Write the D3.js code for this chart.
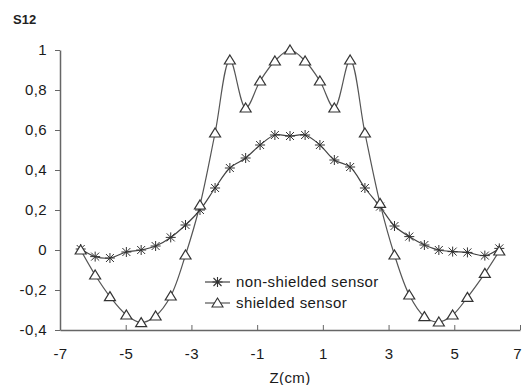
<!DOCTYPE html>
<html>
<head>
<meta charset="utf-8">
<script src="https://cdn.jsdelivr.net/npm/d3@7"></script>
<style>
  body { margin: 0; background: #fff; }
  svg { display: block; font-family: "Liberation Sans", Arial, sans-serif; }
</style>
</head>
<body>
<div id="chart"></div>
<script>
// positions along the sensor (cm)
var zValues = [-6.37, -5.93, -5.48, -4.98, -4.53, -4.09, -3.63, -3.18, -2.74, -2.28, -1.83, -1.35, -0.91, -0.46, 0,
	0.46, 0.91, 1.35, 1.83, 2.28, 2.74, 3.18, 3.63, 4.09, 4.53, 4.95, 5.4, 5.93, 6.37];

// S12 for the non-shielded sensor
var nonShielded = [0.005, -0.033, -0.04, -0.01, 0.0, 0.02, 0.063, 0.125, 0.2, 0.31, 0.41, 0.46, 0.525, 0.575, 0.57,
	0.575, 0.525, 0.45, 0.415, 0.31, 0.217, 0.12, 0.067, 0.025, 0.0, -0.008, -0.012, -0.028, 0.008];

// S12 for the shielded sensor
var shielded = [0.0, -0.125, -0.233, -0.325, -0.363, -0.33, -0.23, -0.025, 0.225, 0.585, 0.95, 0.71, 0.845, 0.945, 1.0,
	0.945, 0.845, 0.71, 0.95, 0.585, 0.233, -0.025, -0.225, -0.333, -0.36, -0.325, -0.237, -0.117, -0.005];

var xTicks = [-7, -5, -3, -1, 1, 3, 5, 7];
var yTicks = [-0.4, -0.2, 0, 0.2, 0.4, 0.6, 0.8, 1];
var seriesNames = ["non-shielded sensor", "shielded sensor"];

var width = 523, height = 385;
var margin = {top: 50, right: 3, bottom: 55, left: 60};

var svg = d3.select("#chart").append("svg")
	.attr("width", width)
	.attr("height", height);

var x = d3.scaleLinear().domain([-7, 7]).range([margin.left, width - margin.right]);
var y = d3.scaleLinear().domain([-0.4, 1]).range([height - margin.bottom, margin.top]);

//X axis
var xAxis = svg.append("g")
	.attr("transform", `translate(0,${y(-0.4)})`)
	.call(d3.axisBottom(x).tickValues(xTicks).tickSizeInner(-5).tickSizeOuter(0).tickPadding(18)
		.tickFormat(d => String(d)));

//Y axis
var yAxis = svg.append("g")
	.attr("transform", `translate(${x(-7)},0)`)
	.call(d3.axisLeft(y).tickValues(yTicks).tickSize(5).tickSizeOuter(0).tickPadding(8)
		.tickFormat(d => String(+d.toFixed(1)).replace(".", ",")));

[xAxis, yAxis].forEach(function(a) {
	a.select(".domain").attr("stroke", "#666").attr("stroke-width", 1.5);
	a.selectAll(".tick line").attr("stroke", "#666");
	a.selectAll("text").attr("font-size", 15).attr("letter-spacing", 0.4).attr("fill", "#1a1a1a")
		.attr("font-family", "Liberation Sans, Arial, sans-serif");
});

// the last x label sits on the right edge, keep it inside
xAxis.selectAll(".tick text").filter(d => d === 7).attr("text-anchor", "end").attr("dx", "1").attr("letter-spacing", 0);

// axis titles
svg.append("text").attr("x", 13).attr("y", 24).attr("font-size", 13).attr("font-weight", "bold")
	.attr("fill", "#222").text("S12");
svg.append("text").attr("x", 290).attr("y", 383).attr("text-anchor", "middle").attr("font-size", 15)
	.attr("letter-spacing", 0.4).attr("fill", "#1a1a1a").text("Z(cm)");

var line = d3.line().curve(d3.curveCatmullRom.alpha(0.5));

function pts(vals) {
	return zValues.map((z, i) => [x(z), y(vals[i])]);
}

var starPath = "M-4,-4L4,4M-4,4L4,-4M0,-5L0,5M-5,0L5,0";
var triPath = "M0,-5L5.5,4L-5.5,4Z";

// shielded series
svg.append("path").attr("d", line(pts(shielded)))
	.attr("fill", "none").attr("stroke", "#555").attr("stroke-width", 1.2);
// non-shielded series
svg.append("path").attr("d", line(pts(nonShielded)))
	.attr("fill", "none").attr("stroke", "#444").attr("stroke-width", 1.2);

svg.selectAll(".star").data(pts(nonShielded)).enter().append("path")
	.attr("class", "star")
	.attr("transform", d => `translate(${d[0]},${d[1]})`)
	.attr("d", starPath).attr("stroke", "#333").attr("stroke-width", 1).attr("fill", "none");

svg.selectAll(".tri").data(pts(shielded)).enter().append("path")
	.attr("class", "tri")
	.attr("transform", d => `translate(${d[0]},${d[1]})`)
	.attr("d", triPath).attr("stroke", "#333").attr("stroke-width", 1.2).attr("fill", "#fff");

// legend
var legend = svg.append("g");
var legendRows = [
	{name: seriesNames[0], yPos: 282, mark: starPath, color: "#444", fill: "none"},
	{name: seriesNames[1], yPos: 303, mark: triPath, color: "#555", fill: "#fff"}
];
legendRows.forEach(function(r) {
	legend.append("line").attr("x1", 205).attr("x2", 230).attr("y1", r.yPos).attr("y2", r.yPos)
		.attr("stroke", r.color).attr("stroke-width", 1.2);
	legend.append("path").attr("transform", `translate(217.5,${r.yPos})`).attr("d", r.mark)
		.attr("stroke", "#333").attr("fill", r.fill).attr("stroke-width", 1.1);
	legend.append("text").attr("x", 236).attr("y", r.yPos + 5).attr("font-size", 15)
		.attr("letter-spacing", 0.4).attr("fill", "#1a1a1a").text(r.name);
});
</script>
</body>
</html>
